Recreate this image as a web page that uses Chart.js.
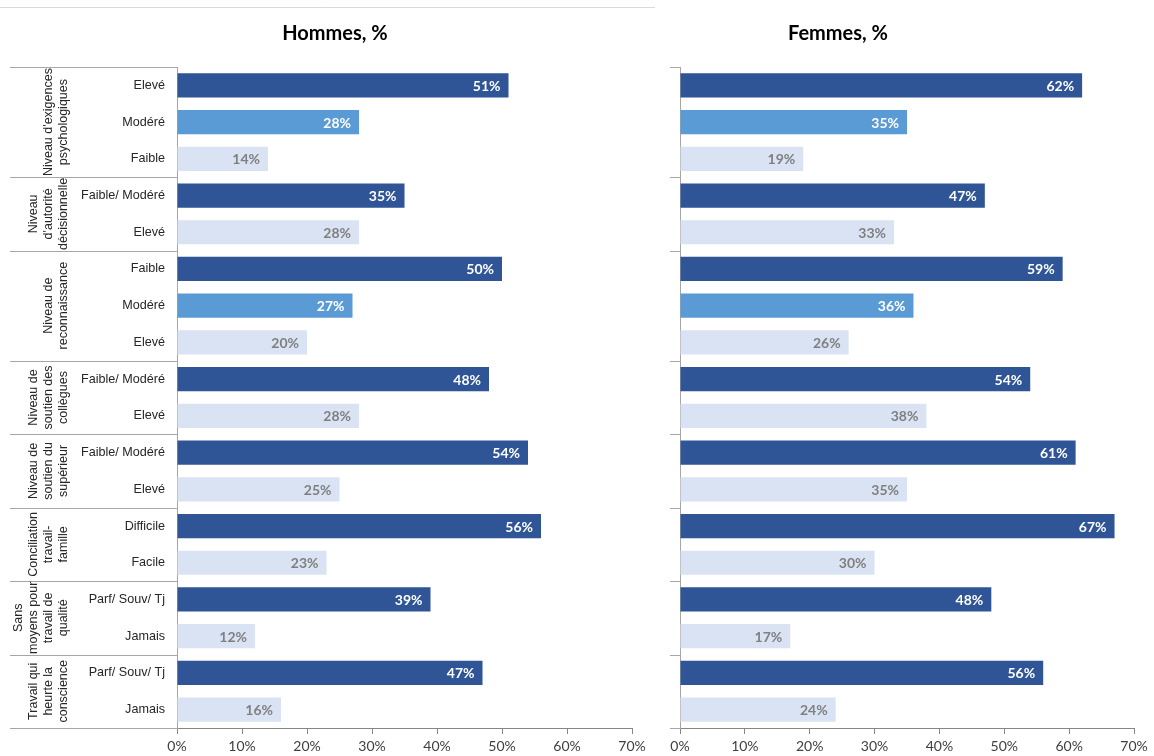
<!DOCTYPE html>
<html>
<head>
<meta charset="utf-8">
<script src="https://cdn.jsdelivr.net/npm/chart.js@4.4.0/dist/chart.umd.min.js"></script>
<style>
  html, body { margin: 0; padding: 0; background: #fff; }
  #wrap { position: relative; width: 1154px; height: 756px; }
  #c1 { position: absolute; left: 0; top: 0; }
  #c2 { position: absolute; left: 656px; top: 0; }
</style>
</head>
<body>
<div id="wrap">
  <canvas id="c1" width="656" height="756"></canvas>
  <canvas id="c2" width="498" height="756"></canvas>
</div>
<script>
const categories = [
    "Elevé", "Modéré", "Faible",
    "Faible/ Modéré", "Elevé",
    "Faible", "Modéré", "Elevé",
    "Faible/ Modéré", "Elevé",
    "Faible/ Modéré", "Elevé",
    "Difficile", "Facile",
    "Parf/ Souv/ Tj", "Jamais",
    "Parf/ Souv/ Tj", "Jamais",
];

const groups = [
    ["Niveau d'exigences", "psychologiques"],
    ["Niveau", "d'autorité", "décisionnelle"],
    ["Niveau de", "reconnaissance"],
    ["Niveau de", "soutien des", "collègues"],
    ["Niveau de", "soutien du", "supérieur"],
    ["Conciliation", "travail-", "famille"],
    ["Sans", "moyens pour", "travail de", "qualité"],
    ["Travail qui", "heurte la", "conscience"],
];
const groupSizes = [3, 2, 3, 2, 2, 2, 2, 2];

const hommes = [51, 28, 14, 35, 28, 50, 27, 20, 48, 28, 54, 25, 56, 23, 39, 12, 47, 16];
const femmes = [62, 35, 19, 47, 33, 59, 36, 26, 54, 38, 61, 35, 67, 30, 48, 17, 56, 24];

const xTicks = [0, 10, 20, 30, 40, 50, 60, 70];

const DARK = "#2F5597", MID = "#5B9BD5", LIGHT = "#DAE3F3";
const GRAY = "#A6A6A6";

// shade per bar: first of group dark, last light, middle medium
const shades = [];
groupSizes.forEach((n) => {
    for (let i = 0; i < n; i++) {
        shades.push(i === 0 ? DARK : (i === n - 1 ? LIGHT : MID));
    }
});

// index boundaries between groups
const bounds = [0];
groupSizes.forEach((n) => bounds.push(bounds[bounds.length - 1] + n));

const labelsPlugin = {
    id: "barLabels",
    afterDatasetsDraw(chart) {
        const ctx = chart.ctx;
        const meta = chart.getDatasetMeta(0);
        const values = chart.data.datasets[0].data;
        ctx.save();
        ctx.font = "bold 14px Lato";
        ctx.textAlign = "right";
        ctx.textBaseline = "middle";
        meta.data.forEach((bar, i) => {
            ctx.fillStyle = shades[i] === LIGHT ? "#7F7F7F" : "#FFFFFF";
            ctx.fillText(values[i] + "%", bar.x - 8, bar.y + 1);
        });
        ctx.restore();
    },
};

const framePlugin = {
    id: "frame",
    afterDraw(chart, args, opts) {
        const ctx = chart.ctx;
        const y = chart.scales.y;
        const left = chart.chartArea.left;
        ctx.save();
        // title
        ctx.font = "bold 20px Lato";
        ctx.fillStyle = "#000";
        ctx.textAlign = "center";
        ctx.textBaseline = "middle";
        ctx.fillText(opts.title, opts.titleX, 34);

        // group separators
        ctx.strokeStyle = GRAY;
        ctx.lineWidth = 1;
        bounds.forEach((b) => {
            const py = Math.round(y.getPixelForValue(b - 0.5)) + 0.5;
            ctx.beginPath();
            ctx.moveTo(opts.sepFrom, py);
            ctx.lineTo(left, py);
            ctx.stroke();
        });

        if (opts.groupLabels) {
            // top frame line
            ctx.strokeStyle = "#D9D9D9";
            ctx.beginPath();
            ctx.moveTo(0, 7.5);
            ctx.lineTo(655, 7.5);
            ctx.stroke();

            ctx.font = "12.5px 'Liberation Sans'";
            ctx.fillStyle = "#262626";
            groups.forEach((lines, g) => {
                const yc = (y.getPixelForValue(bounds[g] - 0.5) + y.getPixelForValue(bounds[g + 1] - 0.5)) / 2;
                const n = lines.length;
                lines.forEach((line, i) => {
                    const px = 64 - 15 * (n - 1 - i);
                    ctx.save();
                    ctx.translate(px, yc);
                    ctx.rotate(-Math.PI / 2);
                    ctx.fillText(line, 0, 0);
                    ctx.restore();
                });
            });
        }
        ctx.restore();
    },
};

function makeChart(id, values, opts) {
    return new Chart(document.getElementById(id), {
        type: "bar",
        data: {
            labels: categories,
            datasets: [{
                data: values,
                backgroundColor: shades,
                categoryPercentage: 1,
                barPercentage: 0.66,
            }],
        },
        options: {
            indexAxis: "y",
            responsive: false,
            animation: false,
            layout: { padding: { top: 67, right: opts.padRight, left: 0, bottom: 0 } },
            plugins: {
                legend: { display: false },
                tooltip: { enabled: false },
                frame: opts.frame,
            },
            scales: {
                x: {
                    min: 0,
                    max: 70,
                    afterBuildTicks: (scale) => {
                        scale.ticks = xTicks.map((v) => ({ value: v }));
                    },
                    afterFit: (scale) => { scale.height = 28; },
                    grid: {
                        drawOnChartArea: false,
                        drawTicks: true,
                        tickLength: 6,
                        color: "#868686",
                    },
                    border: { display: true, color: "#868686" },
                    ticks: {
                        padding: 4,
                        color: "#404040",
                        font: { family: "Lato", size: 14 },
                        callback: (v) => v + "%",
                        maxRotation: 0,
                    },
                },
                y: {
                    afterFit: (scale) => { scale.width = opts.yWidth; },
                    grid: { display: false, drawTicks: false },
                    border: { display: true, color: GRAY },
                    ticks: {
                        display: opts.showCats,
                        padding: 12,
                        color: "#262626",
                        font: { family: "Liberation Sans", size: 12.6 },
                        autoSkip: false,
                    },
                },
            },
        },
        plugins: [labelsPlugin, framePlugin],
    });
}

makeChart("c1", hommes, {
    padRight: 24,
    yWidth: 177,
    showCats: true,
    frame: { title: "Hommes, %", titleX: 335, sepFrom: 10, groupLabels: true },
});

makeChart("c2", femmes, {
    padRight: 20,
    yWidth: 24,
    showCats: false,
    frame: { title: "Femmes, %", titleX: 182, sepFrom: 14, groupLabels: false },
});
</script>
</body>
</html>
